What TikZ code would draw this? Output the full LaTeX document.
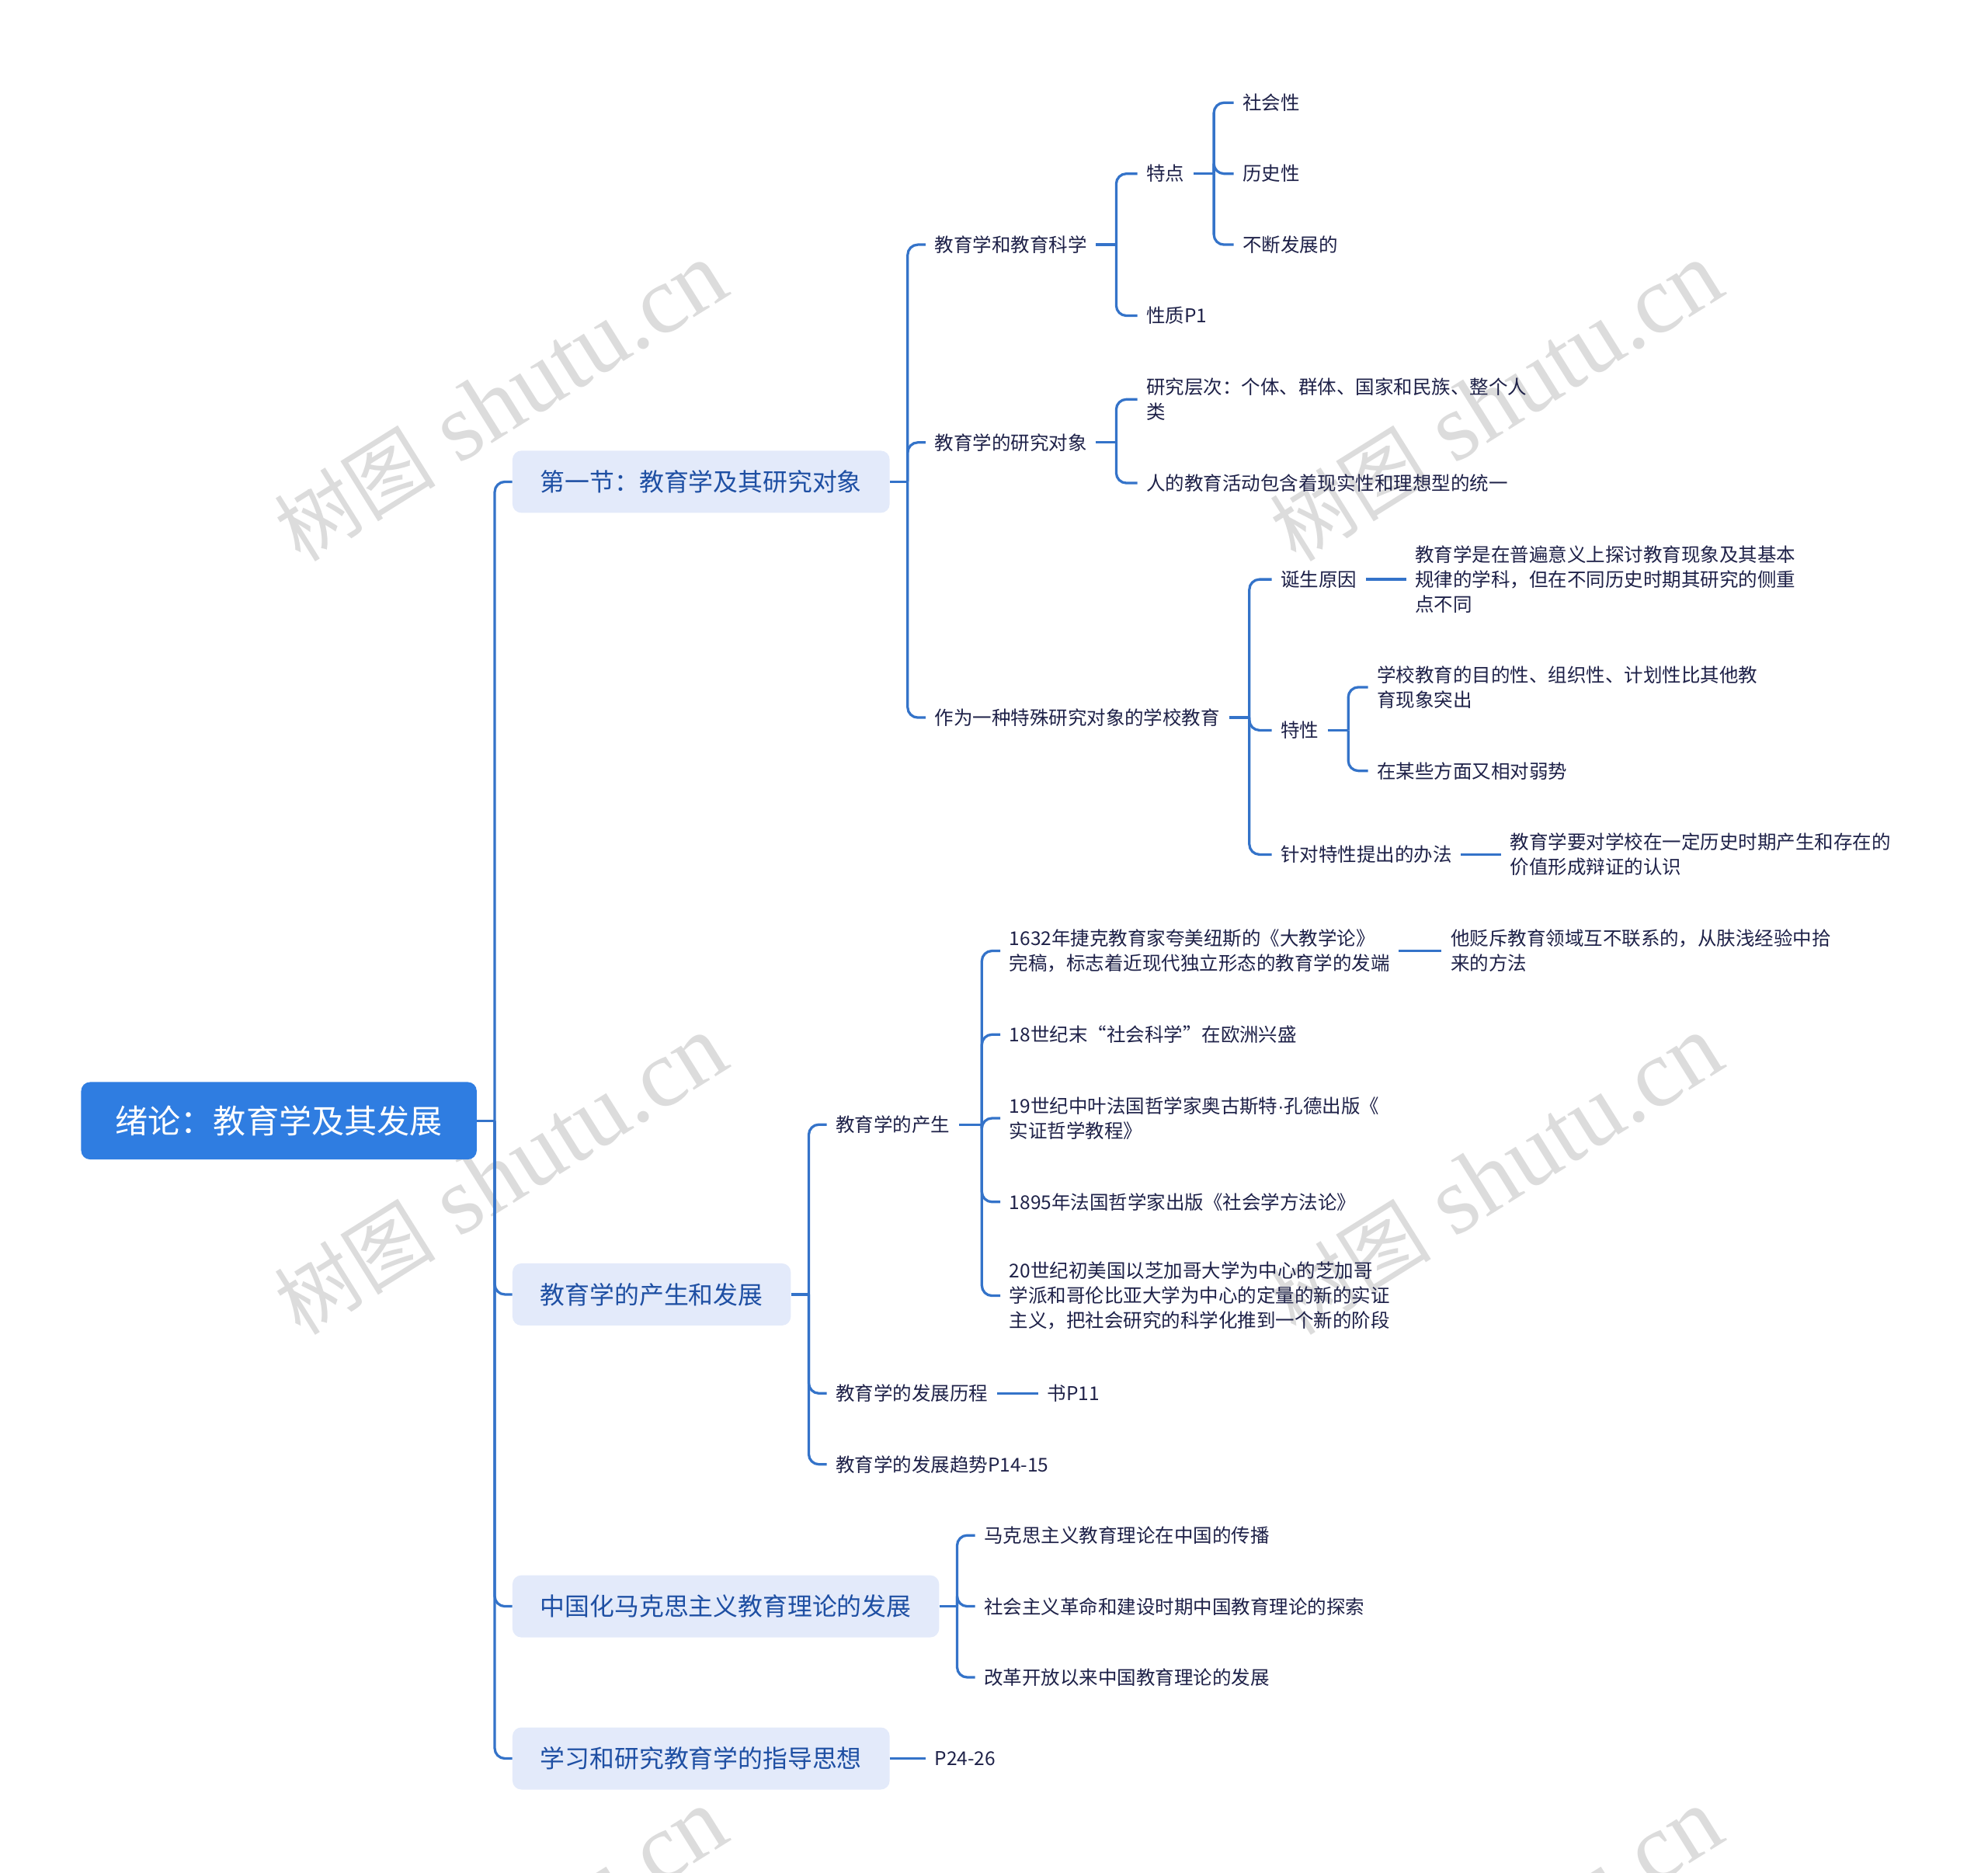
\documentclass[tikz,border=0pt]{standalone}
\usepackage{fontspec}
\setmainfont{Noto Sans CJK SC}
\newfontfamily\wmfont{Liberation Serif}
\newfontfamily\dotfont{Liberation Sans}
\usetikzlibrary{positioning}
\definecolor{rootblue}{HTML}{2F7DE1}
\definecolor{linkblue}{HTML}{3473C9}
\definecolor{boxfill}{HTML}{E3EAFA}
\definecolor{boxtext}{HTML}{1E4FA3}
\definecolor{leaftext}{HTML}{1E2148}
\definecolor{wmgray}{HTML}{DCDCDC}
\begin{document}
\begin{tikzpicture}[x=1pt ,y=-1pt ,
root/.style ={ rectangle ,rounded corners =7pt ,fill =rootblue ,text =white ,
font =\fontsize{25.8}{30}\selectfont ,minimum height =61pt ,inner xsep =27pt},
sect/.style ={ rectangle ,rounded corners =7pt ,fill =boxfill ,text =boxtext ,anchor =west ,
font =\fontsize{19.5}{24}\selectfont ,minimum height =49pt ,inner xsep =22pt},
leaf/.style ={ anchor =west ,text =leaftext ,align =left ,inner xsep =7pt ,inner ysep =2pt ,
font =\fontsize{15}{19.5}\selectfont},
link/.style ={ draw =linkblue ,line width =2pt ,rounded corners =8pt},
wm/.style ={ text =wmgray ,rotate =32 ,font =\wmfont\fontsize{76}{76}\selectfont}]
\useasboundingbox (0,0) rectangle (1568,1477);
\begin{scope}
\clip (0,0) rectangle (1568,1477);
\foreach \wx/\wy [count=\i] in {395/317,1180/317,395/927,1180/927,395/1537,1180/1537}
  \node[wm] (wm\i) at (\wx,\wy) {{\normalfont\fontsize{64}{64}\selectfont 树图} shutu.cn};
\end{scope}
% root and sections
\node[root] (root) at (220,884) {绪论：教育学及其发展};
\node[sect] (s1) at (404,380) {第一节：教育学及其研究对象};
\node[sect] (s2) at (404,1021) {教育学的产生和发展};
\node[sect] (s3) at (404,1267) {中国化马克思主义教育理论的发展};
\node[sect] (s4) at (404,1387) {学习和研究教育学的指导思想};
% first section
\node[leaf] (a1) at (730,193) {教育学和教育科学};
\node[leaf] (a2) at (730,349) {教育学的研究对象};
\node[leaf] (a3) at (730,566) {作为一种特殊研究对象的学校教育};
\node[leaf] (b1) at (897,137) {特点};
\node[leaf] (b2) at (897,249) {性质P1};
\node[leaf] (c1) at (973,81) {社会性};
\node[leaf] (c2) at (973,137) {历史性};
\node[leaf] (c3) at (973,193) {不断发展的};
\node[leaf] (d1) at (897,315) {研究层次：个体、群体、国家和民族、整个人\\类};
\node[leaf] (d2) at (897,381) {人的教育活动包含着现实性和理想型的统一};
\node[leaf] (e1) at (1003,457) {诞生原因};
\node[leaf] (e2) at (1003,576) {特性};
\node[leaf] (e3) at (1003,674) {针对特性提出的办法};
\node[leaf] (f1) at (1109,457) {教育学是在普遍意义上探讨教育现象及其基本\\规律的学科，但在不同历史时期其研究的侧重\\点不同};
\node[leaf] (g1) at (1079,542) {学校教育的目的性、组织性、计划性比其他教\\育现象突出};
\node[leaf] (g2) at (1079,608) {在某些方面又相对弱势};
\node[leaf] (h1) at (1184,674) {教育学要对学校在一定历史时期产生和存在的\\价值形成辩证的认识};
% second section
\node[leaf] (k1) at (652,887) {教育学的产生};
\node[leaf] (k2) at (652,1099) {教育学的发展历程};
\node[leaf] (k3) at (652,1155) {教育学的发展趋势P14-15};
\node[leaf] (m1) at (789,750) {1632年捷克教育家夸美纽斯的《大教学论》\\完稿，标志着近现代独立形态的教育学的发端};
\node[leaf] (m2) at (789,816) {18世纪末“社会科学”在欧洲兴盛};
\node[leaf] (m3) at (789,882) {19世纪中叶法国哲学家奥古斯特{\dotfont ·}孔德出版《\\实证哲学教程》};
\node[leaf] (m4) at (789,948) {1895年法国哲学家出版《社会学方法论》};
\node[leaf] (m5) at (789,1022) {20世纪初美国以芝加哥大学为中心的芝加哥\\学派和哥伦比亚大学为中心的定量的新的实证\\主义，把社会研究的科学化推到一个新的阶段};
\node[leaf] (n1) at (1137,750) {他贬斥教育领域互不联系的，从肤浅经验中拾\\来的方法};
\node[leaf] (n2) at (819,1099) {书P11};
% third and fourth section
\node[leaf] (p1) at (769,1211) {马克思主义教育理论在中国的传播};
\node[leaf] (p2) at (769,1267) {社会主义革命和建设时期中国教育理论的探索};
\node[leaf] (p3) at (769,1323) {改革开放以来中国教育理论的发展};
\node[leaf] (q1) at (730,1387) {P24-26};
% junctions
\coordinate[right=14pt of root] (t0);
\coordinate[right=14pt of s1] (t1);
\coordinate[right=16pt of a1] (ta1);
\coordinate[right=16pt of b1] (tb1);
\coordinate[right=16pt of a2] (ta2);
\coordinate[right=16pt of a3] (ta3);
\coordinate[right=16pt of e2] (te2);
\coordinate[right=14pt of s2] (t2);
\coordinate[right=18pt of k1] (tk1);
\coordinate[right=14pt of s3] (t3);
% connectors
\draw[link] (root.east) -- (t0);
\foreach \c in {s1,s2,s3,s4} \draw[link] (t0) |- (\c.west);
\draw[link] (s1.east) -- (t1);
\foreach \c in {a1,a2,a3} \draw[link] (t1) |- (\c.west);
\draw[link] (a1.east) -- (ta1);
\foreach \c in {b1,b2} \draw[link] (ta1) |- (\c.west);
\draw[link] (b1.east) -- (tb1);
\foreach \c in {c1,c2,c3} \draw[link] (tb1) |- (\c.west);
\draw[link] (a2.east) -- (ta2);
\foreach \c in {d1,d2} \draw[link] (ta2) |- (\c.west);
\draw[link] (a3.east) -- (ta3);
\foreach \c in {e1,e2,e3} \draw[link] (ta3) |- (\c.west);
\draw[link] (e1.east) -- (f1.west);
\draw[link] (e2.east) -- (te2);
\foreach \c in {g1,g2} \draw[link] (te2) |- (\c.west);
\draw[link] (e3.east) -- (h1.west);
\draw[link] (s2.east) -- (t2);
\foreach \c in {k1,k2,k3} \draw[link] (t2) |- (\c.west);
\draw[link] (k1.east) -- (tk1);
\foreach \c in {m1,m2,m3,m4,m5} \draw[link] (tk1) |- (\c.west);
\draw[link] (m1.east) -- (n1.west);
\draw[link] (k2.east) -- (n2.west);
\draw[link] (s3.east) -- (t3);
\foreach \c in {p1,p2,p3} \draw[link] (t3) |- (\c.west);
\draw[link] (s4.east) -- (q1.west);
\end{tikzpicture}
\end{document}
